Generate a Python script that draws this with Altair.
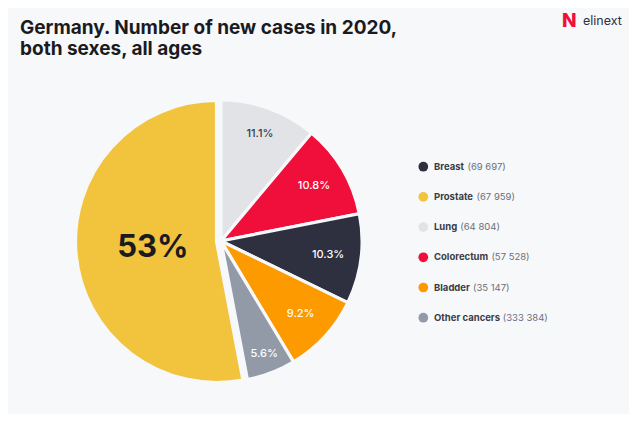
import math
import altair as alt
import pandas as pd

# ---- data ----
legend_names = ["Breast", "Prostate", "Lung", "Colorectum", "Bladder", "Other cancers"]
legend_counts = ["(69 697)", "(67 959)", "(64 804)", "(57 528)", "(35 147)", "(333 384)"]
legend_colors = ["#2e3040", "#f2c43d", "#e2e3e6", "#ef0f3a", "#fd9a00", "#929aa8"]

pie_names = ["Lung", "Colorectum", "Breast", "Bladder", "Other cancers", "Prostate"]
pie_pct = [11.1, 10.8, 10.3, 9.2, 5.6, 53.0]
pie_labels = ["11.1%", "10.8%", "10.3%", "9.2%", "5.6%", "53%"]

title_text = "Germany. Number of new cases in 2020,\nboth sexes, all ages"
logo_text = "elinext"

BG = "#f7f8fa"
FONT = "Inter"
LEG_FS = 9.5

# approximate advance widths (in em) of bold Inter glyphs, used to place the
# regular-weight count right after the bold name
_W = {"a": .57, "b": .61, "c": .56, "d": .61, "e": .58, "g": .61, "h": .62, "l": .26,
      "m": .92, "n": .60, "o": .60, "p": .61, "r": .39, "s": .53, "t": .37, "u": .60,
      "B": .66, "C": .74, "L": .53, "O": .76, "P": .64, " ": .30}


def text_width(s, size):
    return sum(_W.get(ch, .58) for ch in s) * size


pie_df = pd.DataFrame({
    "name": pie_names,
    "pct": pie_pct,
    "label": pie_labels,
    "order": list(range(len(pie_names))),
})
legend_df = pd.DataFrame({"name": legend_names, "count": legend_counts})
legend_df["name_w"] = [text_width(n, LEG_FS) for n in legend_names]

color_scale = alt.Scale(domain=legend_names, range=legend_colors)
theta_scale = alt.Scale(domain=[0, 100], range=[0, 2 * math.pi])

base = alt.Chart(pie_df).transform_window(
    cum="sum(pct)", sort=[alt.SortField("order")], frame=[None, 0]
).transform_calculate(
    start="datum.cum - datum.pct",
    end="datum.cum",
    mid="datum.cum - datum.pct / 2",
    lr="datum.pct > 50 ? 64 : (datum.pct < 6 ? 121 : (datum.pct > 11 ? 114 : 108))",
)

CX, CY = 213, 233
YX, YY = 208.5, 233.5

others = base.transform_filter("datum.name != 'Prostate'").mark_arc(
    outerRadius=141, stroke=BG, strokeWidth=3.2
).encode(
    theta=alt.Theta("start:Q", scale=theta_scale, stack=None),
    theta2="end:Q",
    color=alt.Color("name:N", scale=color_scale, legend=None),
    x=alt.value(CX), y=alt.value(CY),
)

yellow = base.transform_filter("datum.name == 'Prostate'").mark_arc(
    outerRadius=141, stroke=BG, strokeWidth=3.2
).encode(
    theta=alt.Theta("start:Q", scale=theta_scale, stack=None),
    theta2="end:Q",
    color=alt.Color("name:N", scale=color_scale, legend=None),
    x=alt.value(YX), y=alt.value(YY),
)

small_labels = base.transform_filter("datum.pct < 50").mark_text(
    font=FONT, fontSize=11, fontWeight=500, align="center", baseline="middle"
).encode(
    theta=alt.Theta("mid:Q", scale=theta_scale, stack=None),
    radius=alt.Radius("lr:Q", scale=None),
    text="label:N",
    color=alt.condition("datum.name == 'Lung'", alt.value("#3a3c48"), alt.value("#ffffff")),
    x=alt.value(CX), y=alt.value(CY),
)

big_label = base.transform_filter("datum.pct > 50").mark_text(
    font=FONT, fontSize=31, fontWeight=700, align="center", baseline="middle", color="#1b1b1f"
).encode(
    theta=alt.Theta("mid:Q", scale=theta_scale, stack=None),
    radius=alt.Radius("lr:Q", scale=None),
    text="label:N",
    x=alt.value(YX), y=alt.value(YY),
)

leg_y = alt.Y("name:N", scale=alt.Scale(domain=legend_names, range=[158.7, 309.7], type="point", padding=0), axis=None)

leg_base = alt.Chart(legend_df)

leg_dots = leg_base.mark_point(filled=True, shape="circle", size=95, opacity=1).encode(
    y=leg_y,
    x=alt.value(415.3),
    color=alt.Color("name:N", scale=color_scale, legend=None),
)

leg_names = leg_base.mark_text(
    font=FONT, fontSize=LEG_FS, fontWeight=700, align="left", baseline="middle", color="#3a3c48"
).encode(y=leg_y, x=alt.value(426), text="name:N")

leg_counts = leg_base.transform_calculate(
    cx="426 + datum.name_w + 4"
).mark_text(
    font=FONT, fontSize=LEG_FS, fontWeight=400, align="left", baseline="middle", color="#6b6e78"
).encode(y=leg_y, x=alt.X("cx:Q", scale=None, axis=None), text="count:N")

title = alt.Chart(pd.DataFrame({"t": [title_text]})).mark_text(
    font=FONT, fontSize=19, fontWeight=700, align="left", baseline="alphabetic",
    lineBreak="\n", lineHeight=21, color="#1b1b1f"
).encode(x=alt.value(12), y=alt.value(26), text="t:N")

logo_mark = alt.Chart(pd.DataFrame({"t": ["N"]})).mark_text(
    font=FONT, fontSize=19, fontWeight=800, align="left", baseline="alphabetic", color="#ef0f3a"
).encode(x=alt.value(554), y=alt.value(19), text="t:N")

logo = alt.Chart(pd.DataFrame({"t": [logo_text]})).mark_text(
    font=FONT, fontSize=12.5, fontWeight=400, align="left", baseline="alphabetic", color="#2e3040"
).encode(x=alt.value(575), y=alt.value(17), text="t:N")

chart = alt.layer(
    others, yellow, small_labels, big_label,
    leg_dots, leg_names, leg_counts, title, logo_mark, logo,
).properties(
    width=621, height=406,
    autosize=alt.AutoSizeParams(type="none"),
    padding=0,
    background=BG,
).configure_view(stroke=None)

chart.save("out.html", embed_options={"renderer": "svg", "actions": False})
